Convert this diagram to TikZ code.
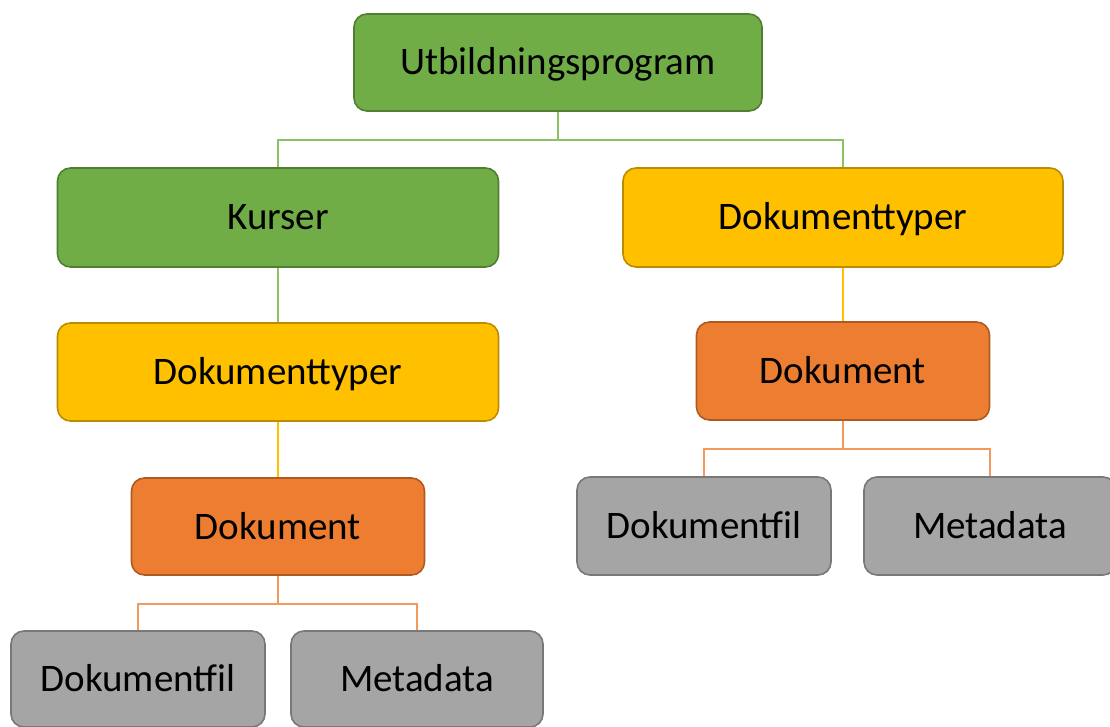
\documentclass[tikz,border=0pt]{standalone}
\usepackage{fontspec}
\setmainfont{Carlito}
\definecolor{gfill}{HTML}{70AD47}
\definecolor{gline}{HTML}{507E32}
\definecolor{glink}{HTML}{8CC266}
\definecolor{yfill}{HTML}{FFC000}
\definecolor{yline}{HTML}{BC8C00}
\definecolor{ylink}{HTML}{FFC000}
\definecolor{ofill}{HTML}{ED7D31}
\definecolor{oline}{HTML}{AE5A21}
\definecolor{olink}{HTML}{F29A5E}
\definecolor{sfill}{HTML}{A5A5A5}
\definecolor{sline}{HTML}{787878}
\tikzset{
  box/.style={rounded corners=13pt, line width=1.6pt, inner sep=0pt,
    font=\fontsize{39}{45}\selectfont, text=black, text height=25pt, text depth=0pt},
  greenbox/.style={box, fill=gfill, draw=gline},
  yellowbox/.style={box, fill=yfill, draw=yline},
  orangebox/.style={box, fill=ofill, draw=oline},
  graybox/.style={box, fill=sfill, draw=sline},
  link/.style={line width=2pt},
}
\begin{document}
\begin{tikzpicture}[x=1pt,y=-1pt]
\useasboundingbox (0,0) rectangle (1110,727);
% nodes
\node[greenbox, minimum width=408pt, minimum height=97pt] (prog) at (558,62.5) {Utbildningsprogram};
\node[greenbox, minimum width=441pt, minimum height=99pt] (kurs) at (278,217.5) {Kurser};
\node[yellowbox, minimum width=440pt, minimum height=99pt] (dtr) at (843,217.5) {Dokumenttyper};
\node[yellowbox, minimum width=441pt, minimum height=98pt] (dtl) at (278,372) {Dokumenttyper};
\node[orangebox, minimum width=293pt, minimum height=97pt] (dl) at (278,526.5) {Dokument};
\node[orangebox, minimum width=293pt, minimum height=98pt] (dr) at (843,371) {Dokument};
\node[graybox, minimum width=254pt, minimum height=96pt] (fl) at (138,679) {Dokumentfil};
\node[graybox, minimum width=252pt, minimum height=96pt] (ml) at (417,679) {Metadata};
\node[graybox, minimum width=254pt, minimum height=98pt] (fr) at (704,526) {Dokumentfil};
\node[graybox, minimum width=252pt, minimum height=98pt] (mr) at (990,526) {Metadata};
% connectors
\draw[link, draw=glink] (prog.south) -- ++(0,28) -| (kurs.north);
\draw[link, draw=glink] (prog.south) -- ++(0,28) -| (dtr.north);
\draw[link, draw=glink] (kurs.south) -- (dtl.north);
\draw[link, draw=ylink] (dtl.south) -- (dl.north);
\draw[link, draw=ylink] (dtr.south) -- (dr.north);
\draw[link, draw=olink] (dl.south) -- ++(0,28) -| (fl.north);
\draw[link, draw=olink] (dl.south) -- ++(0,28) -| (ml.north);
\draw[link, draw=olink] (dr.south) -- ++(0,28.5) -| (fr.north);
\draw[link, draw=olink] (dr.south) -- ++(0,28.5) -| (mr.north);
\end{tikzpicture}
\end{document}
